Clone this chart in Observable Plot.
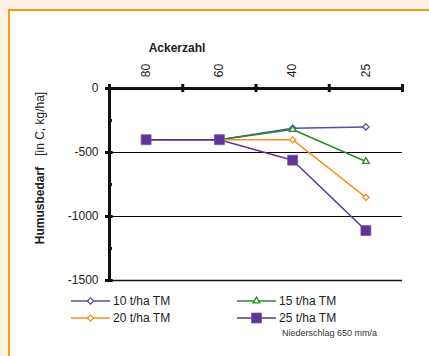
<!DOCTYPE html>
<html><head><meta charset="utf-8">
<script src="https://cdn.jsdelivr.net/npm/d3@7"></script>
<script src="https://cdn.jsdelivr.net/npm/@observablehq/plot@0.6"></script>
<style>
body{margin:0;background:#fdf3e4;font-family:"Liberation Sans",Arial,sans-serif;}
#wrap{position:relative;width:429px;height:356px;overflow:hidden;}
#box{position:absolute;left:8px;top:9px;width:430px;height:360px;background:#fff;border-left:2px solid #f39b1c;border-top:2px solid #f39b1c;}
#chart{position:absolute;left:0;top:0;}
#over{position:absolute;left:0;top:0;}
</style></head>
<body><div id="wrap"><div id="box"></div><div id="chart"></div><svg id="over" width="429" height="356"></svg></div>
<script>
const categories = ["80", "60", "40", "25"];
const yTicks = [0, -500, -1000, -1500];
const yMinor = [-250, -750, -1250];
const series = ["10 t/ha TM", "15 t/ha TM", "20 t/ha TM", "25 t/ha TM"];
const v10 = [-400, -400, -310, -300];
const v15 = [-400, -400, -320, -570];
const v20 = [-400, -400, -400, -850];
const v25 = [-400, -400, -560, -1110];
const colors = ["#5050b0", "#2a8a2a", "#f7901e", "#5e3494"];
const symbols = ["diamond2", "triangle2", "diamond2", "square"];
const radii = [2.8, 3.2, 2.8, 5.6];
const note = "Niederschlag 650 mm/a";
const xTitle = "Ackerzahl";

const allVals = [v10, v15, v20, v25];
const data = [];
allVals.forEach((vals, s) => vals.forEach((v, i) => data.push({s, series: series[s], cat: categories[i], xi: i + 0.5, v})));
const bounds = d3.range(categories.length + 1);
const catData = categories.map((c, i) => ({c, xi: i + 0.5}));

const marks = [
  Plot.ruleY([-500, -1000], {x1: 0, x2: 4, stroke: "#000", strokeWidth: 1}),
  Plot.ruleY([-1500], {x1: 0, x2: 4, stroke: "#111", strokeWidth: 1.5}),
  Plot.ruleY([0], {x1: 0, x2: 4, stroke: "#111", strokeWidth: 3}),
  Plot.ruleX([0], {y1: 0, y2: -1500, stroke: "#111", strokeWidth: 3}),
  Plot.ruleX(bounds, {y1: 32, y2: -32, stroke: "#111", strokeWidth: 3}),
  Plot.ruleY(yTicks, {x1: -0.055, x2: 0.05, stroke: "#111", strokeWidth: 3}),
  Plot.ruleY(yMinor, {x1: 0, x2: 0.04, stroke: "#111", strokeWidth: 3}),
  Plot.text(yTicks, {x: 0, y: d => d, text: d => String(d), dx: -11, textAnchor: "end", fontSize: 12, fill: "#222"}),
  Plot.text(catData, {x: "xi", y: 0, text: "c", rotate: -90, dy: -18, textAnchor: "middle", fontSize: 12, fill: "#222"})
];
series.forEach((name, s) => {
  const d = data.filter(r => r.s === s);
  marks.push(Plot.line(d, {x: "xi", y: "v", stroke: colors[s], strokeWidth: 1.5}));
});
series.forEach((name, s) => {
  const d = data.filter(r => r.s === s);
  if (s === 3) {
    marks.push(Plot.dot(d, {x: "xi", y: "v", symbol: symbols[s], r: radii[s], fill: colors[s], stroke: "#7a55b0", strokeWidth: 0.8}));
  } else {
    marks.push(Plot.dot(d, {x: "xi", y: "v", symbol: symbols[s], r: radii[s], fill: "#fff", stroke: colors[s], strokeWidth: 1.3}));
  }
});

const chart = Plot.plot({
  width: 429, height: 356,
  marginLeft: 109, marginRight: 27, marginTop: 88, marginBottom: 76,
  style: {background: "transparent", fontFamily: "Liberation Sans, Arial, sans-serif"},
  x: {type: "linear", domain: [0, 4], axis: null},
  y: {domain: [-1500, 0], axis: null},
  marks
});
document.getElementById("chart").appendChild(chart);

// overlay: titles and legend
const ov = d3.select("#over");
ov.append("text").attr("x", 177).attr("y", 52).attr("text-anchor", "middle")
  .attr("font-size", 12).attr("font-weight", "bold").attr("fill", "#222").text(xTitle);
const yl = ov.append("text").attr("transform", "translate(44,168) rotate(-90)").attr("text-anchor", "middle")
  .attr("font-size", 12).attr("fill", "#222");
yl.append("tspan").attr("font-weight", "bold").text("Humusbedarf");
yl.append("tspan").attr("dx", 11).text("[in C, kg/ha]");

const legPos = [[71, 301], [237, 301], [71, 318], [237, 318]];
series.forEach((name, s) => {
  const [lx, ly] = legPos[s];
  const g = ov.append("g");
  g.append("line").attr("x1", lx).attr("x2", lx + 39).attr("y1", ly).attr("y2", ly).attr("stroke", colors[s]).attr("stroke-width", 1.5);
  const typ = {diamond2: d3.symbolDiamond2, triangle2: d3.symbolTriangle2, square: d3.symbolSquare}[symbols[s]];
  const path = g.append("path").attr("d", d3.symbol(typ, Math.PI * radii[s] * radii[s])())
    .attr("transform", `translate(${lx + 19.5},${ly})`);
  if (s === 3) path.attr("fill", colors[s]).attr("stroke", "#7a55b0").attr("stroke-width", 0.8);
  else path.attr("fill", "#fff").attr("stroke", colors[s]).attr("stroke-width", 1.3);
  g.append("text").attr("x", lx + 42).attr("y", ly).attr("dy", "0.35em").attr("font-size", 12).attr("fill", "#222").text(name);
});
ov.append("text").attr("x", 282).attr("y", 336).attr("font-size", 9).attr("fill", "#333").text(note);
</script></body></html>
